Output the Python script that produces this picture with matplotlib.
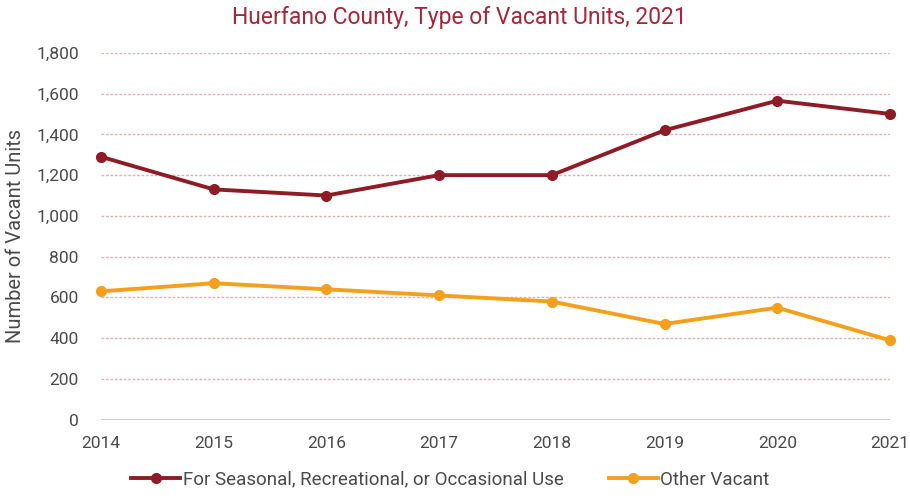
import matplotlib
matplotlib.use("Agg")
import matplotlib.pyplot as plt
from matplotlib.ticker import FuncFormatter, MultipleLocator

plt.rcParams.update({
    "font.family": ["Roboto", "DejaVu Sans"],
    "font.size": 10,
})

years = [2014, 2015, 2016, 2017, 2018, 2019, 2020, 2021]
seasonal = [1290, 1130, 1100, 1200, 1200, 1420, 1565, 1500]
other_vacant = [630, 670, 640, 610, 580, 470, 550, 390]

SEASONAL_COLOR = "#8e1c26"
OTHER_COLOR = "#f4a01c"
TITLE_COLOR = "#a5283a"
TEXT_COLOR = "#4a4a4a"

fig = plt.figure(figsize=(9.1, 4.98), dpi=100)
ax = fig.add_axes([0.111, 0.157, 0.867, 0.737])

ax.plot(years, seasonal, color=SEASONAL_COLOR, lw=2.8, marker="o", ms=7,
        label="For Seasonal, Recreational, or Occasional Use", clip_on=False, zorder=4)
ax.plot(years, other_vacant, color=OTHER_COLOR, lw=2.8, marker="o", ms=7,
        label="Other Vacant", clip_on=False, zorder=4)

ax.set_xlim(2014, 2021)
ax.set_ylim(0, 1800)
ax.yaxis.set_major_locator(MultipleLocator(200))
ax.yaxis.set_major_formatter(FuncFormatter(lambda v, _: f"{v:,.0f}"))
ax.set_xticks(years)

for v in range(200, 1801, 200):
    ax.axhline(v, color="#eab0b6", lw=1, ls=(0, (2, 1.2)), zorder=1)
ax.axhline(0, color="#cccccc", lw=1.3, zorder=1)

for s in ax.spines.values():
    s.set_visible(False)
ax.tick_params(length=0, labelsize=12.5, colors=TEXT_COLOR)
ax.tick_params(axis="y", pad=16)
ax.tick_params(axis="x", pad=12)
ax.set_ylabel("Number of Vacant Units", fontsize=14.5, color=TEXT_COLOR, labelpad=8)

fig.text(0.505, 0.965, "Huerfano County, Type of Vacant Units, 2021",
         ha="center", va="center", fontsize=16.5, color=TITLE_COLOR)

fig.legend(loc="lower center", bbox_to_anchor=(0.495, -0.015), ncol=2,
           frameon=False, fontsize=13.5, labelcolor=TEXT_COLOR,
           handlelength=2.6, handletextpad=0.15, columnspacing=2.4)

fig.savefig("out.png", dpi=100, facecolor="white")
